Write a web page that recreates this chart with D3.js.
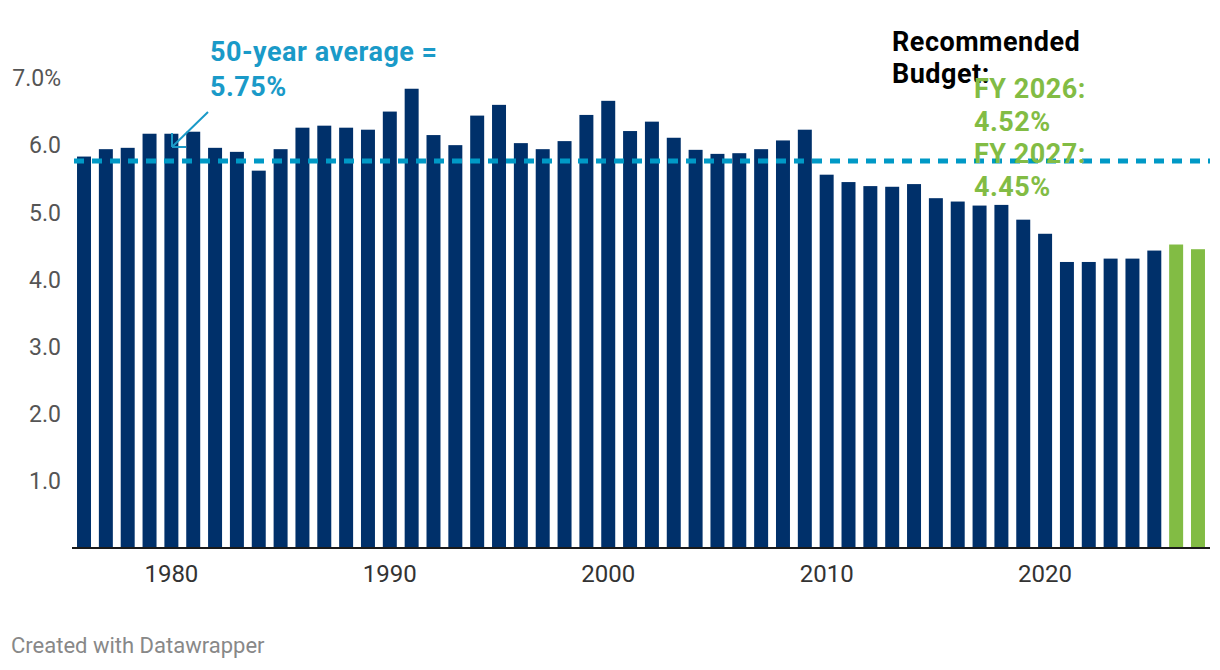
<!DOCTYPE html>
<html>
<head>
<meta charset="utf-8">
<script src="https://cdn.jsdelivr.net/npm/d3@7"></script>
<style>
  body { margin: 0; background: #fff; }
  svg { display: block; font-family: Roboto, "Noto Sans", sans-serif; }
</style>
</head>
<body>
<svg id="chart"></svg>
<script>
// Bar values (percent)
var years = d3.range(1976, 2028);
var values = [
  5.83, 5.94, 5.96, 6.17, 6.17, 6.20, 5.96, 5.90, 5.62, 5.94,
  6.26, 6.29, 6.26, 6.23, 6.50, 6.84, 6.15, 6.00, 6.44, 6.60,
  6.03, 5.94, 6.06, 6.45, 6.66, 6.21, 6.35, 6.11, 5.93, 5.87,
  5.88, 5.94, 6.07, 6.23, 5.56, 5.45, 5.39, 5.38, 5.42, 5.21,
  5.16, 5.10, 5.11, 4.89, 4.68, 4.26, 4.26, 4.31, 4.31, 4.43,
  4.52, 4.45
];
var recommendedYears = [2026, 2027];
var average = 5.75;
var yTicks = [1, 2, 3, 4, 5, 6, 7];
var xTicks = [1980, 1990, 2000, 2010, 2020];

var width = 1220, height = 670;
var navy = "#00306a", green = "#82bc44", teal = "#0099c6";

var svg = d3.select("#chart")
  .attr("width", width)
  .attr("height", height);

var x = d3.scaleBand()
  .domain(years)
  .range([72, 1210])
  .paddingInner(0.36)
  .paddingOuter(0.23);

var y = d3.scaleLinear()
  .domain([0, 7])
  .range([548, 78]);

var data = years.map((yr, i) => ({ year: yr, value: values[i] }));

// bars
svg.append("g")
  .selectAll("rect")
  .data(data)
  .join("rect")
    .attr("x", d => x(d.year))
    .attr("y", d => y(d.value))
    .attr("width", x.bandwidth())
    .attr("height", d => y(0) - y(d.value))
    .attr("fill", d => recommendedYears.includes(d.year) ? green : navy);

// baseline
svg.append("line")
  .attr("x1", 72).attr("x2", 1210)
  .attr("y1", y(0)).attr("y2", y(0))
  .attr("stroke", "#1a1a1a")
  .attr("stroke-width", 2);

// y labels
svg.append("g")
  .selectAll("text")
  .data(yTicks)
  .join("text")
    .attr("x", 61)
    .attr("y", d => y(d))
    .attr("dy", "0.36em")
    .attr("text-anchor", "end")
    .attr("font-size", 23)
    .attr("fill", "#555")
    .text(d => d === 7 ? "7.0%" : d3.format(".1f")(d));

// x labels
svg.append("g")
  .selectAll("text")
  .data(xTicks)
  .join("text")
    .attr("x", d => x(d) + x.bandwidth() / 2)
    .attr("y", 582)
    .attr("text-anchor", "middle")
    .attr("font-size", 24)
    .attr("fill", "#333")
    .text(d => d);

// 50-year average line
svg.append("line")
  .attr("x1", 74).attr("x2", 1210)
  .attr("y1", y(average) - 1).attr("y2", y(average) - 1)
  .attr("stroke", teal)
  .attr("stroke-width", 5)
  .attr("stroke-dasharray", "10 8");

// average annotation
var avgNote = svg.append("text")
  .attr("font-size", 27)
  .attr("font-weight", 700)
  .attr("letter-spacing", 0.5)
  .attr("fill", "#1a9ac8");
avgNote.append("tspan").attr("x", 210).attr("y", 61).text("50-year average =");
avgNote.append("tspan").attr("x", 210).attr("y", 96).text("5.75%");

// arrow
svg.append("path")
  .attr("d", "M208,112 L172,147 M172,147 L172,133 M172,147 L186,147")
  .attr("stroke", "#1a9ac8")
  .attr("stroke-width", 2)
  .attr("fill", "none");

// recommended budget annotation
var recNote = svg.append("text")
  .attr("font-size", 27)
  .attr("font-weight", 700)
  .attr("letter-spacing", 0.5)
  .attr("fill", "#000");
recNote.append("tspan").attr("x", 892).attr("y", 51).text("Recommended");
recNote.append("tspan").attr("x", 892).attr("y", 83).text("Budget:");

var fyNote = svg.append("text")
  .attr("font-size", 27)
  .attr("font-weight", 700)
  .attr("letter-spacing", 0.5)
  .attr("fill", green);
["FY 2026:", "4.52%", "FY 2027:", "4.45%"].forEach((t, i) => {
  fyNote.append("tspan").attr("x", 974).attr("y", 98 + i * 32.5).text(t);
});

// credit
svg.append("text")
  .attr("x", 11)
  .attr("y", 653)
  .attr("font-size", 22)
  .attr("fill", "#888")
  .text("Created with Datawrapper");
</script>
</body>
</html>
